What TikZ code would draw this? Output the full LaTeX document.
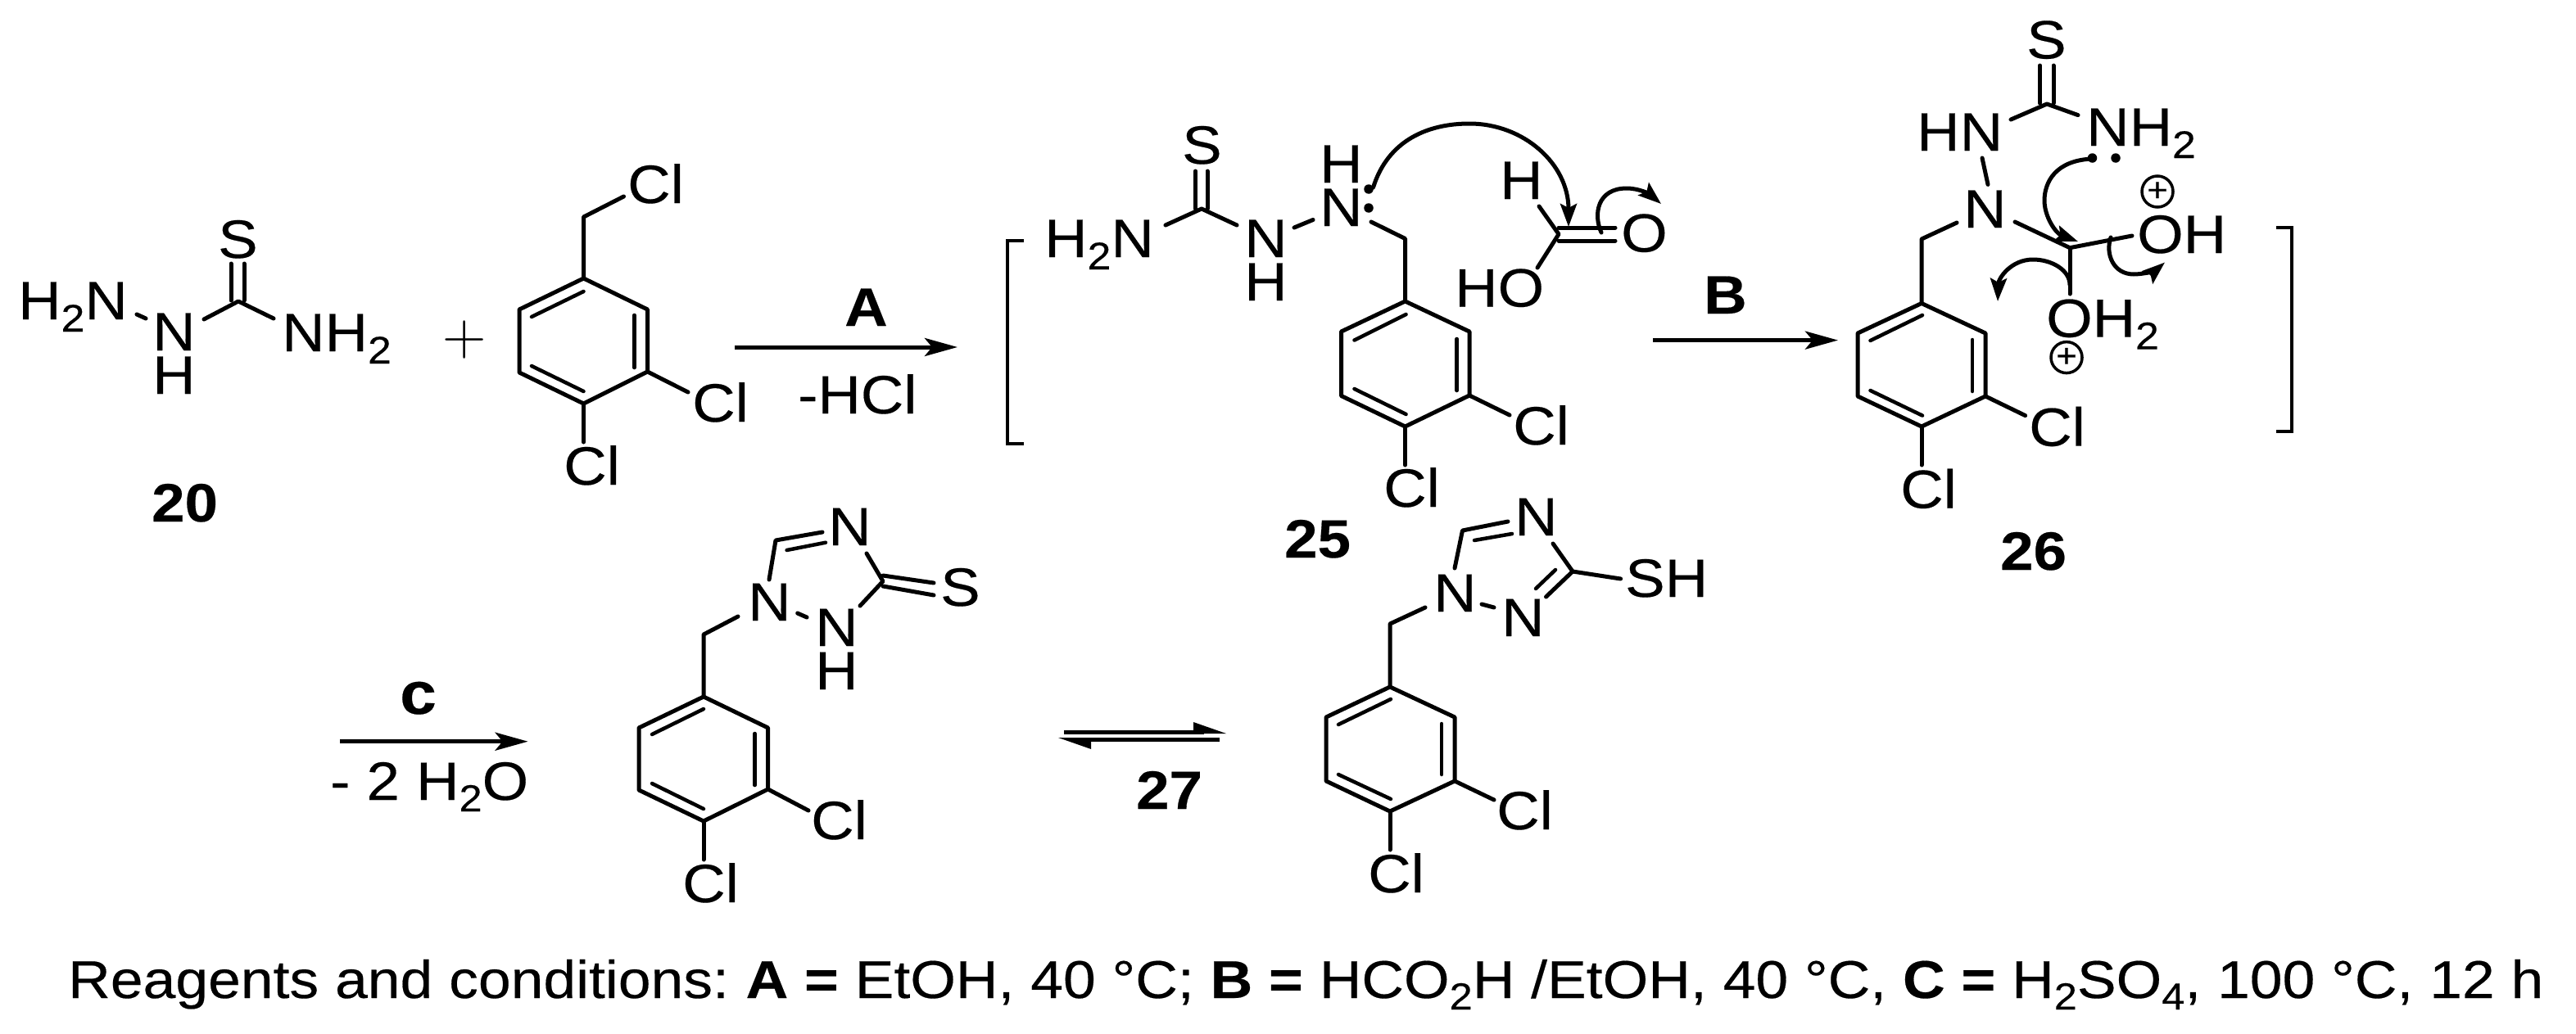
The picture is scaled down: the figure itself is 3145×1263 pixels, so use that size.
\documentclass[tikz,border=0pt]{standalone}
\usepackage{fontspec}
\setmainfont[FakeStretch=1.1,FakeBold=0.3]{Liberation Sans}
\newfontfamily\plusfont{Latin Modern Roman}
\usetikzlibrary{arrows.meta}
\newcommand\sbs[1]{\raisebox{-15pt}{\fontsize{47}{47}\selectfont #1}}
\newcommand\smsbs[1]{\raisebox{-14pt}{\fontsize{46}{46}\selectfont #1}}
\tikzset{
  x=1pt,y=-1pt,
  bond/.style={line width=5pt,line cap=round,line join=round},
  inner/.style={line width=4.5pt,line cap=round},
  txt/.style={anchor=base west,inner sep=0pt,font=\fontsize{66}{70}\selectfont},
  num/.style={anchor=base west,inner sep=0pt,font=\fontsize{66}{70}\selectfont\bfseries},
  rxn/.style={line width=5pt,-{Stealth[length=40pt,width=22pt,inset=9pt]}},
  curly/.style={line width=5pt,line cap=round,-{Stealth[length=28pt,width=20pt,inset=5pt]}},
  brk/.style={line width=4.5pt},
  chg/.style={circle,draw,line width=3.5pt,minimum size=38pt,inner sep=0pt,font=\fontsize{40}{40}\selectfont},
  pdot/.style={circle,fill,inner sep=0pt,minimum size=11.5pt}
}
\begin{document}
\begin{tikzpicture}
\useasboundingbox (0,0) rectangle (3145,1263);
% ---------- compound 20
\node[txt] (a1) at (22,390) {H\sbs{2}N};
\node[txt] (a2) at (186,428) {N};
\node[txt] (a3) at (186,481) {H};
\node[txt] (a4) at (266,315) {S};
\node[txt] (a5) at (344,429) {NH\sbs{2}};
\draw[bond] (167,384) -- (178,389);
\draw[bond] (249,390) -- (291,368) -- (334,389);
\draw[bond] (282,322) -- (282,367);
\draw[bond] (298,322) -- (298,367);
\node[txt,anchor=center,font=\fontsize{74}{74}\selectfont\plusfont] (plus) at (567,415) {+};
% ---------- benzyl chloride
\draw[bond] (712.5,340) -- (790.5,378) -- (790.5,454) -- (712.5,493) -- (634,455) -- (634,378) -- cycle;
\draw[inner] (649,387) -- (712.5,356);
\draw[inner] (774.5,385) -- (774.5,449);
\draw[inner] (649,447) -- (712.5,478);
\draw[bond] (712.5,340) -- (712.5,265) -- (761.5,240);
\draw[bond] (790.5,454) -- (840,479);
\draw[bond] (712.5,493) -- (712.5,540);
\node[txt] (b1) at (766,248) {Cl};
\node[txt] (b2) at (845,515) {Cl};
\node[txt] (b3) at (688,592) {Cl};
\node[num] (n20) at (185,637) {20};
% ---------- arrow A
\coordinate (A0) at (897,424); \coordinate (A1) at (1169,424);
\draw[rxn] (A0) -- (A1);
\node[num] (lA) at (1031,398) {A};
\node[txt] (lHCl) at (974,505) {-HCl};
% ---------- compound 25
\draw[brk] (1250,294) -- (1230,294) -- (1230,542) -- (1250,542);
\node[txt] (c1) at (1275,314) {H\sbs{2}N};
\node[txt] (c2) at (1519,314) {N};
\node[txt] (c3) at (1519,367) {H};
\node[txt] (c4) at (1443,200) {S};
\node[txt] (c5) at (1611,276) {N};
\node[txt] (c6) at (1611,223) {H};
\draw[bond] (1423,275) -- (1467,255) -- (1510,275);
\draw[bond] (1459.5,209) -- (1459.5,255);
\draw[bond] (1474,209) -- (1474,255);
\draw[bond] (1580,278) -- (1603,268.5);
\node[pdot] (d1) at (1671,231) {};
\node[pdot] (d2) at (1671,254) {};
\draw[bond] (1674,271) -- (1715.5,291.5) -- (1715.5,368);
\draw[bond] (1715.5,368) -- (1794,405) -- (1794,483) -- (1715.5,521) -- (1637.5,483.5) -- (1637.5,405) -- cycle;
\draw[inner] (1653.5,415.5) -- (1716.6,384);
\draw[inner] (1778.6,414) -- (1778.6,477);
\draw[inner] (1653.5,475) -- (1716.6,506);
\draw[bond] (1794,483) -- (1843,507);
\draw[bond] (1715.5,521) -- (1715.5,568);
\node[txt] (c7) at (1847,543) {Cl};
\node[txt] (c8) at (1689,619) {Cl};
\node[num] (n25) at (1568,681) {25};
% formic acid
\node[txt] (f1) at (1831,243) {H};
\node[txt] (f2) at (1776,374.5) {HO};
\node[txt] (f3) at (1979,307.5) {O};
\draw[bond] (1879,252) -- (1903,286) -- (1877,327);
\draw[bond] (1903,278) -- (1972,278);
\draw[bond] (1903,294) -- (1972,294);
\draw[curly] (1676.5,229) .. controls (1695,170) and (1745,151) .. (1794,151) .. controls (1860,151) and (1915,200) .. (1915,277);
\draw[curly] (1955,284) .. controls (1945,262) and (1950,230) .. (1986,230) .. controls (2002,230) and (2015,238) .. (2028,249);
% ---------- arrow B
\coordinate (B0) at (2018,415.6); \coordinate (B1) at (2244,415.6);
\draw[rxn] (B0) -- (B1);
\node[num] (lB) at (2080,383) {B};
% ---------- compound 26
\node[txt] (e1) at (2474,71.4) {S};
\node[txt] (e2) at (2340,184) {HN};
\node[txt] (e3) at (2547,178) {NH\sbs{2}};
\node[txt] (e4) at (2397,278) {N};
\node[txt] (e5) at (2609,309) {OH};
\node[txt] (e6) at (2498,411.6) {OH\sbs{2}};
\draw[bond] (2490.5,80) -- (2490.5,126);
\draw[bond] (2507,80) -- (2507,126);
\draw[bond] (2455,146) -- (2499,127) -- (2537,140.6);
\draw[bond] (2427,225.4) -- (2420,193);
\draw[bond] (2389,272) -- (2346,292) -- (2346,370.5);
\draw[bond] (2460,271) -- (2527,302.7) -- (2603,288);
\draw[bond] (2527,302.7) -- (2527,359);
\draw[bond] (2346,370.5) -- (2424,407) -- (2424,484) -- (2346,521) -- (2268,484) -- (2268,407) -- cycle;
\draw[inner] (2283.5,416) -- (2347,385);
\draw[inner] (2408,415) -- (2408,478);
\draw[inner] (2283.5,477) -- (2347,507.6);
\draw[bond] (2424,484) -- (2472.6,507.6);
\draw[bond] (2346,521) -- (2346,568);
\node[txt] (e7) at (2477,544.6) {Cl};
\node[txt] (e8) at (2320,620.5) {Cl};
\node[num] (n26) at (2442,696) {26};
\node[pdot] (d3) at (2554.5,193) {};
\node[pdot] (d4) at (2583,193) {};
\node[chg] (p1) at (2634,234) {+};
\node[chg] (p2) at (2523,436.6) {+};
\draw[curly] (2554,194) .. controls (2510,196) and (2496,222) .. (2496,245) .. controls (2496,265) and (2510,285) .. (2537,295);
\draw[curly] (2577,290) .. controls (2570,310) and (2580,335) .. (2605,335) .. controls (2618,335) and (2632,330) .. (2643,320.5);
\draw[curly] (2527,348) .. controls (2527,330) and (2505,317) .. (2482,317) .. controls (2455,317) and (2440,340) .. (2439,368);
\draw[brk] (2779,278) -- (2798,278) -- (2798,527) -- (2779,527);
% ---------- arrow c
\coordinate (C0) at (415,905.7); \coordinate (C1) at (644.6,905.7);
\draw[rxn] (C0) -- (C1);
\node[num,font=\fontsize{73}{73}\selectfont\bfseries] (lC) at (488,872) {c};
\node[txt] (lW) at (403,977) {- 2 H\smsbs{2}O};
% ---------- thione
\node[txt] (g1) at (1011,666) {N};
\node[txt] (g2) at (913,758) {N};
\node[txt] (g3) at (995,789) {N};
\node[txt] (g4) at (995,842) {H};
\node[txt] (g5) at (1148,740) {S};
\draw[bond] (939,708) -- (947,660) -- (1004,650);
\draw[inner] (960.6,672) -- (1008,662.7);
\draw[bond] (1058,676) -- (1078,710) -- (1050,740);
\draw[bond] (1078,703) -- (1140,712);
\draw[bond] (1078,716) -- (1140,727);
\draw[bond] (973.6,749) -- (985,754);
\draw[bond] (901,753) -- (859,775) -- (859,851);
\draw[bond] (859,851) -- (937.6,889) -- (937.6,964) -- (859,1003) -- (780,965) -- (780,889) -- cycle;
\draw[inner] (796,897) -- (859,866);
\draw[inner] (921.5,896) -- (921.5,959);
\draw[inner] (796,957) -- (859,988);
\draw[bond] (937.6,964) -- (987,990);
\draw[bond] (859,1003) -- (859,1050);
\node[txt] (g6) at (990,1025) {Cl};
\node[txt] (g7) at (833,1102) {Cl};
% ---------- equilibrium
\coordinate (U0) at (1299,894); \coordinate (U1) at (1470,894);
\coordinate (L0) at (1488.5,903); \coordinate (L1) at (1320,903);
\draw[line width=5pt] (U0) -- (U1);
\fill (1457,882) -- (1497,896) -- (1457,896) -- cycle;
\draw[line width=5pt] (L0) -- (L1);
\fill (1332,915) -- (1292,901) -- (1332,901) -- cycle;
\node[num] (n27) at (1387,988) {27};
% ---------- thiol
\node[txt] (h1) at (1849,654) {N};
\node[txt] (h2) at (1750,747) {N};
\node[txt] (h3) at (1833,777) {N};
\node[txt] (h4) at (1984,729) {SH};
\draw[bond] (1776,694) -- (1785.5,648) -- (1841,637);
\draw[inner] (1800,660) -- (1846,652);
\draw[bond] (1896,664) -- (1920,698) -- (1887.5,729);
\draw[inner] (1899,696) -- (1875,719);
\draw[bond] (1920,698) -- (1978.6,707);
\draw[bond] (1809,738) -- (1824,742);
\draw[bond] (1740,742) -- (1697,762) -- (1697,839);
\draw[bond] (1697,839) -- (1776,876) -- (1776,954) -- (1697,991) -- (1619,954) -- (1619,876) -- cycle;
\draw[inner] (1634,885) -- (1698,854);
\draw[inner] (1760,884) -- (1760,946);
\draw[inner] (1634,946) -- (1698,976);
\draw[bond] (1776,954) -- (1824,977);
\draw[bond] (1697,991) -- (1697,1038);
\node[txt] (h5) at (1827,1013) {Cl};
\node[txt] (h6) at (1670,1090) {Cl};
% ---------- conditions
\node[txt,font=\fontsize{65}{70}\selectfont] (cond) at (83,1219) {Reagents and conditions:\hspace{-6pt} \textbf{A =} EtOH, 40 °C; \textbf{B =} HCO\smsbs{2}H /EtOH, 40 °C, \textbf{C =} H\smsbs{2}SO\smsbs{4}, 100 °C, 12 h};
\end{tikzpicture}
\end{document}
